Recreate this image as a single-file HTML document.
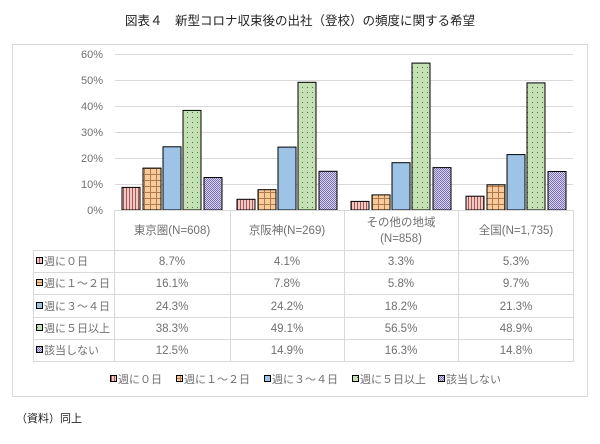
<!DOCTYPE html>
<html><head><meta charset="utf-8"><style>
body{margin:0;background:#fff;width:600px;height:439px;overflow:hidden;font-family:"Liberation Sans","Noto Sans CJK JP",sans-serif;}
</style></head><body>
<svg width="600" height="439" xmlns="http://www.w3.org/2000/svg" font-family="Liberation Sans, Noto Sans CJK JP, sans-serif">
<defs>
<pattern id="p1" width="3" height="3" patternUnits="userSpaceOnUse"><rect width="3" height="3" fill="#f4c7c3"/><rect width="1" height="3" fill="#9c5a5a"/></pattern>
<pattern id="p2" width="6" height="6" patternUnits="userSpaceOnUse"><rect width="6" height="6" fill="#f8cb9c"/><rect width="6" height="1" fill="#b07a4a"/><rect width="1" height="6" fill="#b07a4a"/></pattern>
<pattern id="p4" width="5" height="5" patternUnits="userSpaceOnUse"><rect width="5" height="5" fill="#c5e0b4"/><rect x="2" y="2" width="1" height="1" fill="#4a7a3a"/></pattern>
<pattern id="p5" width="2" height="2" patternUnits="userSpaceOnUse"><rect width="2" height="2" fill="#d9d4f4"/><rect width="1" height="1" fill="#7a70b0"/><rect x="1" y="1" width="1" height="1" fill="#7a70b0"/></pattern>
</defs>
<text x="300" y="25" font-size="12.5" text-anchor="middle" fill="#222">図表４　新型コロナ収束後の出社（登校）の頻度に関する希望</text>
<rect x="12.5" y="44.5" width="575" height="352" fill="#fff" stroke="#d9d9d9"/>
<g stroke="#d9d9d9" stroke-width="1">
<line x1="115" y1="54.5" x2="573" y2="54.5"/><line x1="115" y1="80.5" x2="573" y2="80.5"/>
<line x1="115" y1="106.5" x2="573" y2="106.5"/><line x1="115" y1="132.5" x2="573" y2="132.5"/>
<line x1="115" y1="158.5" x2="573" y2="158.5"/><line x1="115" y1="184.5" x2="573" y2="184.5"/>
</g>
<g font-size="11" fill="#707070" text-anchor="end">
<text x="103" y="58">60%</text><text x="103" y="84">50%</text><text x="103" y="110">40%</text>
<text x="103" y="136">30%</text><text x="103" y="162">20%</text><text x="103" y="188">10%</text><text x="103" y="214">0%</text>
</g>
<g stroke="#000" stroke-width="1">
<rect x="122" y="187.4" width="18" height="22.6" fill="url(#p1)"/>
<rect x="143" y="168.1" width="18" height="41.9" fill="url(#p2)"/>
<rect x="163" y="146.8" width="18" height="63.2" fill="#9dc3e6"/>
<rect x="183" y="110.4" width="18" height="99.6" fill="url(#p4)"/>
<rect x="204" y="177.5" width="18" height="32.5" fill="url(#p5)"/>
<rect x="237" y="199.3" width="18" height="10.7" fill="url(#p1)"/>
<rect x="258" y="189.7" width="18" height="20.3" fill="url(#p2)"/>
<rect x="278" y="147.1" width="18" height="62.9" fill="#9dc3e6"/>
<rect x="298" y="82.3" width="18" height="127.7" fill="url(#p4)"/>
<rect x="319" y="171.3" width="18" height="38.7" fill="url(#p5)"/>
<rect x="351" y="201.4" width="18" height="8.6" fill="url(#p1)"/>
<rect x="372" y="194.9" width="18" height="15.1" fill="url(#p2)"/>
<rect x="392" y="162.7" width="18" height="47.3" fill="#9dc3e6"/>
<rect x="412" y="63.1" width="18" height="146.9" fill="url(#p4)"/>
<rect x="433" y="167.6" width="18" height="42.4" fill="url(#p5)"/>
<rect x="466" y="196.2" width="18" height="13.8" fill="url(#p1)"/>
<rect x="487" y="184.8" width="18" height="25.2" fill="url(#p2)"/>
<rect x="507" y="154.6" width="18" height="55.4" fill="#9dc3e6"/>
<rect x="527" y="82.9" width="18" height="127.1" fill="url(#p4)"/>
<rect x="548" y="171.5" width="18" height="38.5" fill="url(#p5)"/>
</g>
<g stroke="#d9d9d9" stroke-width="1" fill="none">
<line x1="114.5" y1="210" x2="114.5" y2="362"/><line x1="230.5" y1="210" x2="230.5" y2="362"/>
<line x1="344.5" y1="210" x2="344.5" y2="362"/><line x1="458.5" y1="210" x2="458.5" y2="362"/>
<line x1="573.5" y1="210" x2="573.5" y2="362"/><line x1="114" y1="210.5" x2="574" y2="210.5"/>
<line x1="33.5" y1="250" x2="33.5" y2="362"/>
<line x1="33" y1="250.5" x2="574" y2="250.5"/><line x1="33" y1="272.5" x2="574" y2="272.5"/>
<line x1="33" y1="294.5" x2="574" y2="294.5"/><line x1="33" y1="317.5" x2="574" y2="317.5"/>
<line x1="33" y1="339.5" x2="574" y2="339.5"/><line x1="33" y1="361.5" x2="574" y2="361.5"/>
</g>
<g font-size="11.5" fill="#707070" text-anchor="middle">
<text x="172" y="234">東京圏(N=608)</text><text x="287" y="234">京阪神(N=269)</text>
<text x="401" y="226">その他の地域</text><text x="401" y="242">(N=858)</text><text x="516" y="234">全国(N=1,735)</text>
<text x="172" y="265">8.7%</text><text x="287" y="265">4.1%</text><text x="401" y="265">3.3%</text><text x="516" y="265">5.3%</text>
<text x="172" y="287">16.1%</text><text x="287" y="287">7.8%</text><text x="401" y="287">5.8%</text><text x="516" y="287">9.7%</text>
<text x="172" y="310">24.3%</text><text x="287" y="310">24.2%</text><text x="401" y="310">18.2%</text><text x="516" y="310">21.3%</text>
<text x="172" y="332">38.3%</text><text x="287" y="332">49.1%</text><text x="401" y="332">56.5%</text><text x="516" y="332">48.9%</text>
<text x="172" y="354">12.5%</text><text x="287" y="354">14.9%</text><text x="401" y="354">16.3%</text><text x="516" y="354">14.8%</text>
</g>
<g stroke="#000" stroke-width="1">
<rect x="36.5" y="257.5" width="6" height="6" fill="url(#p1)"/>
<rect x="36.5" y="279.5" width="6" height="6" fill="url(#p2)"/>
<rect x="36.5" y="302.5" width="6" height="6" fill="#9dc3e6"/>
<rect x="36.5" y="324.5" width="6" height="6" fill="url(#p4)"/>
<rect x="36.5" y="346.5" width="6" height="6" fill="url(#p5)"/>
</g>
<g font-size="11" fill="#707070">
<text x="44" y="265">週に０日</text><text x="44" y="287">週に１～２日</text><text x="44" y="310">週に３～４日</text>
<text x="44" y="332">週に５日以上</text><text x="44" y="354">該当しない</text>
</g>
<g stroke="#000" stroke-width="1">
<rect x="110.5" y="375.5" width="6" height="6" fill="url(#p1)"/>
<rect x="176.5" y="375.5" width="6" height="6" fill="url(#p2)"/>
<rect x="264.5" y="375.5" width="6" height="6" fill="#9dc3e6"/>
<rect x="352.5" y="375.5" width="6" height="6" fill="url(#p4)"/>
<rect x="438.5" y="375.5" width="6" height="6" fill="url(#p5)"/>
</g>
<g font-size="11" fill="#707070">
<text x="118" y="383">週に０日</text><text x="184" y="383">週に１～２日</text><text x="272" y="383">週に３～４日</text>
<text x="360" y="383">週に５日以上</text><text x="446" y="383">該当しない</text>
</g>
<text x="16" y="422" font-size="11" fill="#222">（資料）同上</text>
</svg>
</body></html>
